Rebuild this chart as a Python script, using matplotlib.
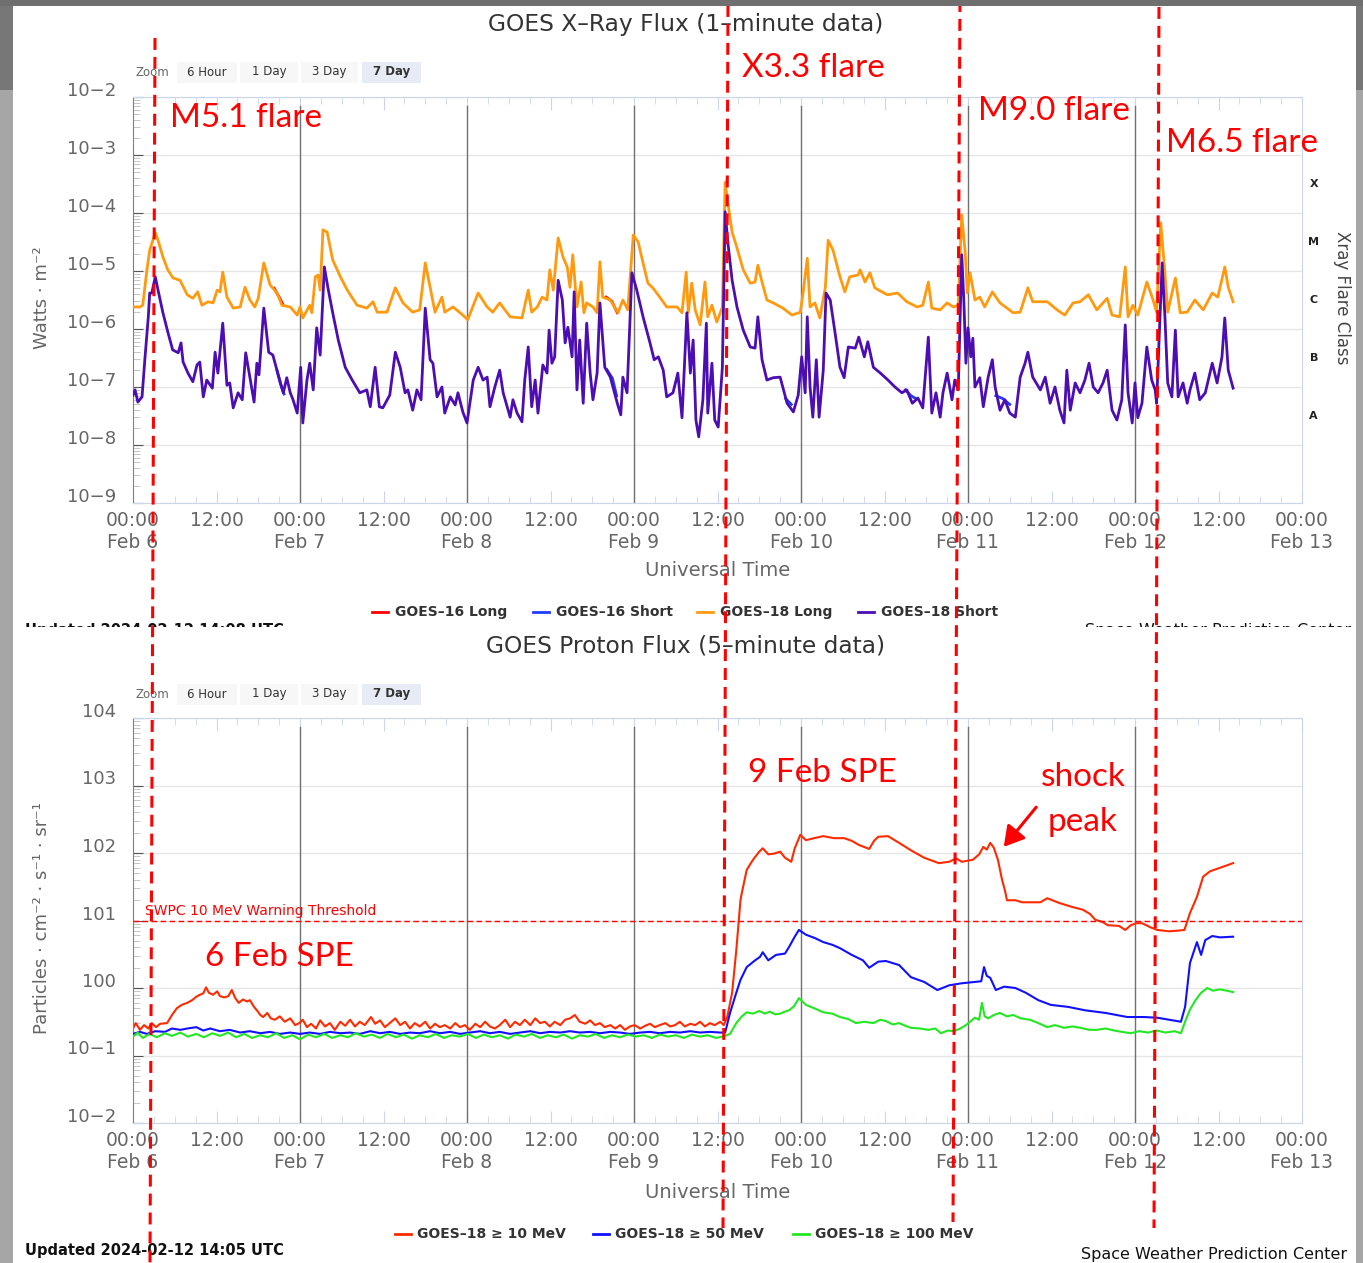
import numpy as np
import matplotlib
matplotlib.use("Agg")
import matplotlib.pyplot as plt
from matplotlib.lines import Line2D
from matplotlib.patches import Rectangle, FancyArrowPatch
from matplotlib.ticker import LogLocator, NullFormatter
from matplotlib.transforms import ScaledTranslation

W, H = 1363, 1263


def fx(px):
    return px / W


def fy(py):
    return 1 - py / H


# ---- X-ray flux: (hours since 2024-02-06 00:00 UTC, log10 W m^-2) ----
g18_long = [
    (0.0, -5.62), (1.0, -5.62), (1.4, -5.59), (2.0, -4.98), (2.4, -4.64), (3.2, -4.34),
    (3.6, -4.47), (4.3, -4.76), (5.0, -4.98), (5.75, -5.12), (6.75, -5.16), (7.8, -5.41),
    (8.6, -5.47), (9.3, -5.36), (9.9, -5.59), (10.8, -5.53), (11.5, -5.55), (12.1, -5.33),
    (12.5, -5.36), (12.9, -5.02), (13.5, -5.45), (14.4, -5.64), (15.4, -5.62), (16.1, -5.28),
    (16.8, -5.50), (17.5, -5.62), (18.0, -5.47), (18.8, -4.86), (19.7, -5.24), (20.7, -5.38),
    (21.4, -5.59), (22.6, -5.62), (23.6, -5.76), (24.0, -5.62), (24.4, -5.81), (25.4, -5.59),
    (25.7, -5.72), (26.2, -5.10), (26.6, -5.07), (26.9, -5.33), (27.3, -4.29), (27.9, -4.33),
    (28.7, -4.81), (29.8, -5.10), (30.8, -5.33), (32.2, -5.59), (33.6, -5.64), (34.5, -5.53),
    (35.1, -5.71), (36.5, -5.71), (37.7, -5.29), (38.8, -5.55), (40.2, -5.71), (41.2, -5.67),
    (42.0, -4.86), (42.7, -5.28), (43.4, -5.71), (44.4, -5.45), (44.8, -5.71), (46.0, -5.62),
    (47.4, -5.76), (48.1, -5.84), (49.6, -5.38), (50.9, -5.62), (51.7, -5.71), (52.7, -5.55),
    (54.2, -5.79), (55.9, -5.81), (56.8, -5.33), (57.3, -5.71), (58.1, -5.62), (58.8, -5.45),
    (59.5, -5.50), (59.9, -4.98), (60.4, -5.33), (61.1, -4.43), (61.8, -4.76), (62.4, -4.93),
    (62.8, -5.28), (63.2, -4.72), (63.8, -5.62), (64.4, -5.19), (64.8, -5.72), (65.2, -5.55),
    (66.1, -5.62), (66.7, -5.72), (67.1, -4.84), (67.5, -5.45), (68.6, -5.50), (69.7, -5.72),
    (70.4, -5.50), (71.1, -5.67), (71.9, -4.38), (72.6, -4.50), (73.3, -4.86), (74.0, -5.21),
    (74.7, -5.29), (75.7, -5.45), (76.7, -5.62), (78.2, -5.62), (78.9, -5.72), (79.5, -5.02),
    (79.8, -5.72), (80.3, -5.21), (80.8, -5.67), (81.5, -5.93), (82.2, -5.19), (82.6, -5.79),
    (83.2, -5.59), (83.9, -5.88), (84.7, -5.62), (85.1, -3.47), (85.5, -3.83), (86.1, -4.33),
    (86.8, -4.60), (87.7, -4.98), (88.7, -5.21), (89.4, -5.19), (89.8, -4.90), (90.4, -5.19),
    (91.1, -5.50), (92.0, -5.55), (93.4, -5.64), (94.7, -5.76), (95.9, -5.71), (96.3, -5.38),
    (96.9, -4.78), (97.3, -5.62), (98.0, -5.55), (98.7, -5.81), (99.5, -5.28), (99.9, -4.47),
    (100.6, -4.64), (101.6, -5.10), (102.3, -5.36), (103.0, -5.10), (104.2, -5.07), (104.5, -4.98),
    (105.2, -5.19), (105.9, -5.03), (106.6, -5.29), (108.4, -5.41), (109.9, -5.38), (111.2, -5.53),
    (112.7, -5.62), (113.5, -5.59), (114.3, -5.19), (114.8, -5.64), (116.0, -5.67), (117.0, -5.55),
    (117.9, -5.62), (118.6, -5.59), (119.1, -4.03), (119.6, -4.69), (119.9, -5.38), (120.3, -5.03),
    (121.0, -5.50), (121.7, -5.45), (122.4, -5.62), (123.5, -5.36), (124.6, -5.55), (126.5, -5.72),
    (127.5, -5.71), (128.6, -5.29), (129.3, -5.53), (131.4, -5.53), (132.8, -5.67), (133.9, -5.76),
    (135.1, -5.55), (136.1, -5.53), (137.3, -5.41), (138.5, -5.67), (140.0, -5.47), (140.7, -5.76),
    (141.8, -5.79), (142.6, -4.93), (143.0, -5.79), (143.7, -5.59), (144.4, -5.76), (145.7, -5.19),
    (146.6, -5.50), (147.1, -5.71), (147.7, -4.17), (148.3, -5.03), (148.7, -5.71), (149.8, -5.12),
    (150.5, -5.72), (151.5, -5.71), (152.6, -5.50), (153.8, -5.67), (155.1, -5.38), (155.9, -5.45),
    (156.9, -4.93), (157.4, -5.28), (158.1, -5.53),
]

g18_short = [
    (0.0, -7.14), (0.3, -7.05), (0.7, -7.26), (1.3, -7.17), (1.7, -6.53), (2.2, -5.79),
    (2.4, -5.38), (2.7, -5.38), (3.2, -5.10), (3.6, -5.33), (4.3, -5.72), (5.0, -6.05),
    (5.7, -6.36), (6.5, -6.41), (6.9, -6.24), (7.2, -6.57), (7.9, -6.76), (8.6, -6.91),
    (9.2, -6.62), (9.6, -6.57), (10.1, -7.17), (10.6, -6.88), (11.4, -7.02), (11.8, -6.40),
    (12.2, -6.76), (12.9, -5.90), (13.5, -6.97), (13.9, -6.93), (14.4, -7.36), (15.1, -7.10),
    (15.7, -7.22), (16.2, -6.41), (16.8, -6.83), (17.4, -7.26), (17.8, -6.59), (18.1, -6.79),
    (18.8, -5.64), (19.5, -6.40), (20.1, -6.45), (20.8, -6.76), (21.6, -7.10), (22.1, -6.84),
    (22.6, -7.10), (23.0, -7.22), (23.6, -7.45), (24.1, -6.66), (24.4, -7.62), (25.0, -6.88),
    (25.4, -6.59), (25.9, -7.05), (26.4, -5.98), (26.9, -6.45), (27.5, -4.93), (28.0, -5.28),
    (28.7, -5.72), (29.5, -6.19), (30.5, -6.66), (31.5, -6.88), (32.6, -7.10), (33.6, -7.05),
    (34.1, -7.34), (34.8, -6.66), (35.4, -7.34), (35.9, -7.36), (36.9, -7.14), (37.7, -6.40),
    (38.4, -6.66), (39.1, -7.10), (39.5, -7.05), (40.2, -7.40), (40.8, -7.05), (41.4, -7.22),
    (42.0, -5.64), (42.7, -6.53), (43.1, -6.59), (43.7, -7.17), (44.4, -7.00), (44.8, -7.45),
    (45.6, -7.17), (46.3, -7.31), (46.7, -7.10), (47.4, -7.43), (48.0, -7.62), (48.9, -6.88),
    (49.6, -6.66), (50.3, -6.88), (50.9, -6.83), (51.3, -7.34), (52.0, -7.00), (52.7, -6.71),
    (53.2, -7.10), (54.2, -7.52), (54.6, -7.22), (55.2, -7.45), (55.9, -7.60), (56.3, -6.88),
    (56.8, -6.31), (57.3, -7.34), (57.8, -6.88), (58.2, -7.45), (58.9, -6.62), (59.5, -6.76),
    (59.8, -6.02), (60.2, -6.59), (60.6, -6.48), (61.1, -5.16), (61.7, -5.50), (62.1, -6.24),
    (62.5, -5.97), (63.1, -6.48), (63.4, -5.36), (63.8, -7.05), (64.2, -6.19), (64.7, -7.28),
    (65.2, -5.90), (65.7, -6.76), (66.1, -7.22), (66.7, -6.76), (67.1, -5.55), (67.8, -6.66),
    (68.6, -6.83), (69.6, -7.28), (70.1, -7.48), (70.4, -6.83), (71.0, -7.10), (71.7, -5.03),
    (72.4, -5.33), (73.3, -5.79), (74.3, -6.24), (74.9, -6.53), (75.5, -6.48), (76.2, -6.71),
    (76.7, -7.17), (77.6, -7.10), (78.3, -6.76), (78.9, -7.53), (79.6, -5.72), (80.1, -6.76),
    (80.5, -6.19), (80.9, -7.57), (81.3, -7.86), (81.9, -7.22), (82.4, -5.90), (82.6, -7.45),
    (83.2, -6.59), (83.6, -7.57), (84.1, -7.69), (84.7, -6.66), (85.1, -3.98), (85.5, -4.52),
    (86.1, -5.16), (86.8, -5.62), (87.7, -6.02), (88.7, -6.31), (89.4, -6.33), (89.8, -5.79),
    (90.4, -6.53), (91.1, -6.88), (92.0, -6.84), (93.0, -6.83), (94.0, -7.28), (94.9, -7.43),
    (95.6, -7.14), (96.1, -6.48), (96.6, -7.10), (96.9, -5.79), (97.3, -7.00), (97.7, -7.52),
    (98.2, -6.53), (98.6, -7.52), (99.2, -6.71), (99.6, -5.38), (100.2, -5.50), (100.9, -6.07),
    (101.6, -6.66), (102.2, -6.84), (102.8, -6.31), (103.8, -6.33), (104.3, -6.14), (105.1, -6.48),
    (105.6, -6.22), (106.4, -6.66), (107.4, -6.76), (108.5, -6.88), (109.5, -7.00), (110.5, -7.10),
    (111.2, -7.05), (112.0, -7.28), (112.8, -7.19), (113.5, -7.36), (114.3, -6.14), (114.8, -7.45),
    (115.4, -7.10), (116.0, -7.52), (116.4, -7.10), (117.0, -6.76), (117.7, -7.22), (118.1, -6.88),
    (118.6, -7.05), (119.1, -4.72), (119.4, -5.50), (119.7, -6.59), (120.0, -5.98), (120.4, -6.48),
    (120.7, -6.16), (121.0, -7.00), (121.7, -6.84), (122.2, -7.34), (122.9, -6.83), (123.5, -6.53),
    (123.9, -7.00), (124.6, -7.40), (125.3, -7.22), (126.0, -7.45), (126.8, -7.52), (127.5, -6.83),
    (128.2, -6.59), (128.6, -6.40), (129.3, -6.83), (130.4, -7.05), (131.1, -6.83), (131.8, -7.28),
    (132.5, -7.00), (133.2, -7.40), (133.8, -7.62), (134.2, -6.71), (134.7, -7.40), (135.4, -6.93),
    (136.1, -7.10), (136.8, -6.88), (137.4, -6.59), (138.0, -7.00), (138.7, -7.10), (139.4, -6.93),
    (140.0, -6.71), (140.7, -7.40), (141.4, -7.57), (142.1, -7.22), (142.6, -5.93), (143.0, -7.10),
    (143.6, -7.62), (144.0, -6.93), (144.4, -7.53), (145.0, -7.28), (145.7, -6.31), (146.4, -6.88),
    (146.9, -7.05), (147.1, -7.28), (147.9, -4.86), (148.3, -5.79), (148.7, -6.93), (149.3, -7.17),
    (149.8, -6.02), (150.2, -7.17), (150.9, -6.93), (151.5, -7.28), (151.9, -7.05), (152.6, -6.76),
    (153.3, -7.22), (154.1, -7.10), (155.1, -6.59), (155.8, -6.93), (156.5, -6.48), (156.9, -5.81),
    (157.4, -6.71), (158.1, -7.02),
]

# GOES-16 mostly lies under GOES-18; only the stretches where it shows
g16_long = [
    [(20.3, -5.30), (21.0, -5.45), (21.6, -5.59)],
    [(68.0, -5.45), (68.8, -5.52), (69.6, -5.72)],
]
g16_short = [
    [(20.7, -6.72), (21.2, -6.95), (21.7, -7.12)],
    [(68.1, -6.70), (68.9, -6.85), (69.5, -7.15)],
    [(93.8, -7.20), (94.6, -7.30)],
    [(111.0, -7.05), (111.8, -7.15), (112.5, -7.20)],
    [(124.0, -7.15), (125.0, -7.20), (126.0, -7.30)],
]

# ---- Proton flux: (hours since 2024-02-06 00:00 UTC, log10 pfu) ----
p10 = [
    (0.0, -0.60), (0.4, -0.52), (1.0, -0.62), (1.6, -0.55), (2.2, -0.60), (2.7, -0.52),
    (3.3, -0.58), (3.9, -0.53), (4.9, -0.52), (5.6, -0.40), (6.3, -0.30), (7.0, -0.25),
    (7.8, -0.22), (8.5, -0.18), (9.1, -0.13), (9.6, -0.10), (10.1, -0.08), (10.5, 0.01),
    (10.9, -0.07), (11.5, -0.10), (12.1, -0.05), (12.5, -0.12), (13.1, -0.14), (13.7, -0.12),
    (14.2, -0.03), (14.7, -0.15), (15.2, -0.22), (15.8, -0.17), (16.4, -0.20), (16.8, -0.18),
    (17.4, -0.28), (17.8, -0.33), (18.3, -0.40), (18.7, -0.43), (19.3, -0.37), (19.8, -0.45),
    (20.4, -0.47), (21.1, -0.42), (21.8, -0.50), (22.6, -0.45), (23.3, -0.55), (23.9, -0.52),
    (24.4, -0.47), (25.0, -0.58), (25.6, -0.53), (26.3, -0.60), (26.9, -0.48), (27.6, -0.57),
    (28.3, -0.52), (29.0, -0.62), (29.8, -0.50), (30.5, -0.56), (31.2, -0.47), (31.9, -0.57),
    (32.6, -0.50), (33.3, -0.55), (34.2, -0.43), (34.8, -0.53), (35.5, -0.48), (36.2, -0.58),
    (36.9, -0.52), (37.7, -0.45), (38.4, -0.55), (39.1, -0.50), (39.8, -0.60), (40.5, -0.52),
    (41.2, -0.57), (42.0, -0.50), (42.7, -0.60), (43.4, -0.53), (44.1, -0.58), (44.8, -0.55),
    (45.6, -0.60), (46.3, -0.52), (47.0, -0.58), (47.7, -0.55), (48.4, -0.62), (49.2, -0.53),
    (49.9, -0.58), (50.6, -0.50), (51.3, -0.57), (52.0, -0.60), (52.7, -0.55), (53.5, -0.47),
    (54.2, -0.58), (54.9, -0.50), (55.6, -0.55), (56.3, -0.47), (57.1, -0.55), (57.8, -0.45),
    (58.5, -0.52), (59.2, -0.50), (59.9, -0.57), (60.6, -0.50), (61.4, -0.55), (62.1, -0.47),
    (62.8, -0.45), (63.5, -0.40), (64.2, -0.50), (65.0, -0.53), (65.7, -0.48), (66.4, -0.55),
    (67.1, -0.52), (67.8, -0.58), (68.6, -0.55), (69.3, -0.60), (70.0, -0.55), (70.7, -0.62),
    (71.4, -0.57), (72.1, -0.55), (72.9, -0.60), (73.6, -0.56), (74.3, -0.53), (75.0, -0.58),
    (75.7, -0.55), (76.5, -0.52), (77.2, -0.57), (77.9, -0.55), (78.6, -0.50), (79.3, -0.57),
    (80.1, -0.53), (80.8, -0.55), (81.5, -0.50), (82.2, -0.57), (82.9, -0.52), (83.6, -0.55),
    (84.4, -0.50), (84.9, -0.55), (85.4, -0.43), (86.1, -0.07), (86.7, 0.56), (87.3, 1.30),
    (87.5, 1.41), (88.2, 1.75), (89.1, 1.90), (90.0, 2.02), (90.5, 2.07), (91.3, 1.98),
    (92.1, 1.99), (93.0, 2.02), (93.7, 1.93), (94.6, 1.87), (95.1, 2.07), (95.9, 2.27),
    (96.7, 2.19), (97.9, 2.22), (99.2, 2.25), (100.7, 2.22), (102.2, 2.22), (103.3, 2.18),
    (104.3, 2.12), (105.8, 2.06), (106.5, 2.18), (107.1, 2.24), (108.5, 2.25), (110.1, 2.15),
    (111.8, 2.04), (113.7, 1.93), (115.8, 1.85), (117.3, 1.87), (118.3, 1.92), (119.1, 1.87),
    (120.7, 1.90), (121.6, 1.98), (122.2, 2.09), (122.7, 2.05), (123.2, 2.15), (123.7, 2.08),
    (124.3, 1.90), (124.9, 1.60), (125.3, 1.45), (125.6, 1.30), (126.8, 1.30), (127.8, 1.27),
    (128.9, 1.27), (130.4, 1.27), (131.4, 1.33), (133.1, 1.26), (135.0, 1.20), (136.5, 1.16),
    (137.5, 1.10), (138.3, 1.01), (139.3, 0.98), (140.1, 0.93), (141.7, 0.92), (142.6, 0.86),
    (143.4, 0.93), (144.2, 0.96), (145.0, 0.96), (146.2, 0.90), (147.2, 0.86), (148.9, 0.84),
    (150.2, 0.85), (151.1, 0.86), (151.9, 1.11), (152.9, 1.35), (153.8, 1.65), (154.8, 1.73),
    (156.2, 1.78), (158.1, 1.85),
]

p50 = [
    (0.0, -0.68), (1.0, -0.65), (2.0, -0.68), (3.2, -0.64), (4.6, -0.65), (5.6, -0.60),
    (6.8, -0.62), (7.8, -0.60), (9.1, -0.58), (10.1, -0.63), (11.1, -0.60), (12.5, -0.64),
    (13.9, -0.62), (15.4, -0.66), (16.8, -0.64), (18.3, -0.67), (19.7, -0.65), (21.1, -0.68),
    (22.6, -0.66), (24.0, -0.68), (25.4, -0.66), (26.9, -0.68), (28.3, -0.65), (29.8, -0.67),
    (31.2, -0.66), (32.6, -0.68), (34.1, -0.64), (35.5, -0.67), (36.9, -0.65), (38.4, -0.68),
    (39.8, -0.66), (41.2, -0.67), (42.7, -0.64), (44.1, -0.67), (45.6, -0.65), (47.0, -0.68),
    (48.4, -0.66), (49.9, -0.64), (51.3, -0.67), (52.7, -0.65), (54.2, -0.68), (55.6, -0.66),
    (57.1, -0.64), (58.5, -0.67), (59.9, -0.65), (61.4, -0.66), (62.8, -0.64), (64.2, -0.66),
    (65.7, -0.65), (67.1, -0.67), (68.6, -0.65), (70.0, -0.66), (71.4, -0.68), (72.9, -0.66),
    (74.3, -0.65), (75.7, -0.67), (77.2, -0.65), (78.6, -0.66), (80.1, -0.64), (81.5, -0.66),
    (82.9, -0.65), (84.4, -0.66), (85.1, -0.66), (85.8, -0.37), (86.7, -0.07), (87.3, 0.12),
    (88.2, 0.31), (89.4, 0.41), (90.1, 0.46), (90.5, 0.53), (91.3, 0.41), (92.4, 0.49),
    (93.7, 0.51), (94.3, 0.61), (95.1, 0.76), (95.7, 0.86), (96.7, 0.79), (98.0, 0.74),
    (99.2, 0.68), (100.5, 0.64), (101.6, 0.59), (103.3, 0.49), (104.9, 0.41), (105.8, 0.30),
    (107.1, 0.39), (108.2, 0.40), (110.1, 0.34), (111.8, 0.16), (113.7, 0.09), (115.6, -0.03),
    (117.3, 0.04), (119.1, 0.07), (121.0, 0.09), (121.9, 0.10), (122.3, 0.31), (122.7, 0.18),
    (123.2, 0.15), (124.0, -0.03), (125.2, 0.02), (126.8, 0.00), (128.3, -0.07), (130.1, -0.18),
    (131.9, -0.25), (134.4, -0.28), (136.8, -0.33), (139.8, -0.37), (142.9, -0.43), (145.3, -0.43),
    (147.2, -0.44), (148.9, -0.47), (150.6, -0.50), (151.2, -0.28), (151.9, 0.37), (152.9, 0.68),
    (153.5, 0.49), (154.1, 0.71), (155.1, 0.77), (156.2, 0.75), (158.1, 0.76),
]

p100 = [
    (0.0, -0.72), (0.7, -0.66), (1.4, -0.74), (2.4, -0.68), (3.4, -0.73), (4.6, -0.67),
    (5.6, -0.71), (6.8, -0.66), (7.9, -0.72), (9.1, -0.68), (10.2, -0.73), (11.4, -0.67),
    (12.5, -0.71), (13.7, -0.66), (14.8, -0.73), (16.0, -0.68), (17.1, -0.74), (18.3, -0.70),
    (19.4, -0.73), (20.6, -0.67), (21.7, -0.74), (22.9, -0.70), (24.0, -0.76), (25.2, -0.69),
    (26.3, -0.73), (27.5, -0.68), (28.6, -0.74), (29.8, -0.70), (30.9, -0.73), (32.0, -0.67),
    (33.2, -0.72), (34.3, -0.69), (35.5, -0.74), (36.6, -0.68), (37.8, -0.73), (38.9, -0.69),
    (40.1, -0.75), (41.2, -0.70), (42.4, -0.73), (43.5, -0.68), (44.7, -0.74), (45.8, -0.70),
    (47.0, -0.72), (48.1, -0.68), (49.3, -0.74), (50.4, -0.69), (51.6, -0.73), (52.7, -0.70),
    (53.9, -0.75), (55.0, -0.69), (56.2, -0.72), (57.3, -0.68), (58.5, -0.74), (59.6, -0.70),
    (60.8, -0.73), (61.9, -0.69), (63.1, -0.75), (64.2, -0.70), (65.4, -0.72), (66.5, -0.68),
    (67.7, -0.74), (68.8, -0.70), (70.0, -0.73), (71.1, -0.69), (72.3, -0.72), (73.4, -0.70),
    (74.6, -0.74), (75.7, -0.69), (76.9, -0.72), (78.0, -0.70), (79.2, -0.74), (80.3, -0.69),
    (81.5, -0.72), (82.6, -0.70), (83.8, -0.74), (85.1, -0.71), (85.8, -0.68), (86.7, -0.52),
    (87.5, -0.42), (88.2, -0.36), (89.1, -0.38), (90.0, -0.34), (90.8, -0.38), (91.5, -0.35),
    (92.3, -0.39), (93.0, -0.38), (93.7, -0.35), (94.3, -0.33), (95.0, -0.27), (95.7, -0.15),
    (96.7, -0.25), (97.9, -0.30), (99.2, -0.36), (100.5, -0.38), (101.6, -0.43), (102.8, -0.46),
    (103.9, -0.52), (105.1, -0.50), (106.4, -0.52), (107.4, -0.47), (108.2, -0.49), (109.2, -0.54),
    (110.1, -0.52), (111.0, -0.56), (111.8, -0.59), (113.1, -0.60), (114.3, -0.62), (115.3, -0.60),
    (116.1, -0.67), (117.1, -0.63), (118.0, -0.64), (118.9, -0.60), (119.7, -0.55), (121.0, -0.44),
    (121.6, -0.47), (122.0, -0.22), (122.4, -0.42), (122.9, -0.45), (123.7, -0.40), (124.6, -0.37),
    (125.6, -0.42), (126.5, -0.40), (127.6, -0.45), (128.9, -0.47), (130.1, -0.52), (131.4, -0.58),
    (132.5, -0.55), (133.8, -0.59), (135.0, -0.57), (136.2, -0.59), (137.4, -0.62), (138.5, -0.62),
    (139.8, -0.60), (141.0, -0.63), (142.1, -0.65), (143.4, -0.67), (144.6, -0.64), (145.9, -0.66),
    (147.1, -0.63), (148.4, -0.66), (149.7, -0.64), (150.6, -0.67), (151.3, -0.47), (151.9, -0.32),
    (152.7, -0.18), (153.5, -0.07), (154.4, 0.00), (155.2, -0.04), (156.2, -0.02), (157.2, -0.04),
    (158.1, -0.06),
]

days = ["Feb 6", "Feb 7", "Feb 8", "Feb 9", "Feb 10", "Feb 11", "Feb 12", "Feb 13"]
xray_exp = list(range(-9, -1))
proton_exp = list(range(-2, 5))
flare_classes = ["A", "B", "C", "M", "X"]
xray_legend = ["GOES\u201316 Long", "GOES\u201316 Short", "GOES\u201318 Long", "GOES\u201318 Short"]
proton_legend = ["GOES\u201318 \u2265 10 MeV", "GOES\u201318 \u2265 50 MeV", "GOES\u201318 \u2265 100 MeV"]
zoom_buttons = ["6 Hour", "1 Day", "3 Day", "7 Day"]

c_g16l, c_g16s, c_g18l, c_g18s = "#ff0000", "#1f3cff", "#ff9a10", "#4c0db2"
c_p10, c_p50, c_p100 = "#ff2a00", "#1010ff", "#22e822"


def xy(series):
    a = np.array(series)
    return a[:, 0], 10.0 ** a[:, 1]


def exp_label(e):
    return "10" + (("\u2212" + str(-e)) if e < 0 else str(e))


fig = plt.figure(figsize=(W / 100, H / 100), dpi=100)
fig.patch.set_facecolor("white")

ax1 = fig.add_axes([fx(133), fy(503), fx(1302) - fx(133), (503 - 97) / H])
ax2 = fig.add_axes([fx(133), fy(1123), fx(1302) - fx(133), (1123 - 718) / H])

xlabels = []
for i in range(15):
    xlabels.append("00:00\n" + days[i // 2] if i % 2 == 0 else "12:00")


def setup(ax, exps):
    ax.set_xlim(0, 168)
    ax.set_yscale("log")
    ax.set_ylim(10.0 ** exps[0], 10.0 ** exps[-1])
    ax.set_yticks([10.0 ** e for e in exps])
    ax.set_yticklabels([exp_label(e) for e in exps])
    ax.yaxis.set_minor_locator(LogLocator(base=10, subs=np.arange(2, 10), numticks=20))
    ax.yaxis.set_minor_formatter(NullFormatter())
    ax.set_xticks(np.arange(0, 169, 12))
    ax.set_xticklabels(xlabels)
    ax.set_xticks(np.arange(0, 169, 3), minor=True)
    ax.grid(axis="y", which="major", color="#e6e6e6", lw=1)
    ax.set_axisbelow(True)
    for s in ["top", "right", "bottom"]:
        ax.spines[s].set_color("#ccd6eb")
    ax.spines["left"].set_color("#808080")
    ax.tick_params(axis="x", which="both", direction="in", top=True, bottom=True,
                   color="#ccd6eb", labelcolor="#666666", labelsize=13.5, pad=6)
    ax.tick_params(axis="x", which="major", length=9)
    ax.tick_params(axis="x", which="minor", length=5)
    ax.tick_params(axis="y", which="major", direction="in", length=7, color="#555555",
                   labelcolor="#666666", labelsize=13, pad=12)
    ax.tick_params(axis="y", which="minor", direction="in", length=5, color="#bbbbbb")
    for lab in ax.get_yticklabels():
        lab.set_transform(lab.get_transform() + ScaledTranslation(0, 0.08, fig.dpi_scale_trans))
    for d in range(24, 168, 24):
        ax.axvline(d, ymin=0, ymax=0.977, color="#707070", lw=1, zorder=1)


setup(ax1, xray_exp)
setup(ax2, proton_exp)

# X-ray series
for seg in g16_long:
    ax1.plot(*xy(seg), color=c_g16l, lw=2.0, zorder=2)
for seg in g16_short:
    ax1.plot(*xy(seg), color=c_g16s, lw=2.0, zorder=2)
ax1.plot(*xy(g18_long), color=c_g18l, lw=2.0, zorder=3)
ax1.plot(*xy(g18_short), color=c_g18s, lw=2.0, zorder=4)

for i, c in enumerate(flare_classes):
    ax1.text(1.01, 10.0 ** (-7.5 + i), c, transform=ax1.get_yaxis_transform(),
             ha="center", va="center", fontsize=8, fontweight="bold", color="#222222")

# proton series
ax2.plot(*xy(p10), color=c_p10, lw=1.5, zorder=2)
ax2.plot(*xy(p50), color=c_p50, lw=1.5, zorder=3)
ax2.plot(*xy(p100), color=c_p100, lw=1.5, zorder=4)
ax2.axhline(10, color="#ff0000", lw=1.0, ls=(0, (4, 2.5)), zorder=5)
ax2.text(1.7, 10.0 ** 1.03, "SWPC 10 MeV Warning Threshold", color="#ff0000",
         fontsize=10, ha="left", va="bottom", zorder=5)

# titles and axis texts
fig.text(fx(686), fy(24), "GOES X\u2013Ray Flux (1\u2013minute data)", ha="center", va="center",
         fontsize=16.8, color="#333333")
fig.text(fx(686), fy(646), "GOES Proton Flux (5\u2013minute data)", ha="center", va="center",
         fontsize=16.8, color="#333333")
for yy in (571, 1193):
    fig.text(fx(718), fy(yy), "Universal Time", ha="center", va="center", fontsize=14,
             color="#666666")
fig.text(fx(42), fy(298), "Watts \u00b7 m\u207b\u00b2", rotation=90, ha="center", va="center",
         fontsize=13, color="#666666")
fig.text(fx(42), fy(918), "Particles \u00b7 cm\u207b\u00b2 \u00b7 s\u207b\u00b9 \u00b7 sr\u207b\u00b9",
         rotation=90, ha="center", va="center", fontsize=13, color="#666666")
fig.text(fx(1342), fy(298), "Xray Flare Class", rotation=-90, ha="center", va="center",
         fontsize=12, color="#444444")

# zoom buttons
btn_x = [(177, 237), (240, 298), (301, 358), (362, 421)]
for ytop in (62, 684):
    fig.text(fx(135), fy(ytop + 10), "Zoom", ha="left", va="center", fontsize=8.5, color="#666666")
    for i, (label, (x0, x1)) in enumerate(zip(zoom_buttons, btn_x)):
        face = "#e6ebf5" if i == 3 else "#f7f7f7"
        fig.add_artist(Rectangle((fx(x0), fy(ytop + 21)), fx(x1) - fx(x0), 21 / H,
                                 transform=fig.transFigure, facecolor=face, edgecolor="none"))
        fig.text(fx((x0 + x1) / 2), fy(ytop + 10), label, ha="center", va="center", fontsize=8.5,
                 color="#333333", fontweight="bold" if i == 3 else "normal")

# legends
leg1 = [(372, c_g16l), (533, c_g16s), (697, c_g18l), (858, c_g18s)]
for (x0, col), label in zip(leg1, xray_legend):
    fig.add_artist(Line2D([fx(x0), fx(x0 + 16)], [fy(612)] * 2, color=col, lw=2,
                          transform=fig.transFigure))
    fig.text(fx(x0 + 23), fy(612), label, ha="left", va="center", fontsize=10,
             fontweight="bold", color="#333333")
leg2 = [(395, c_p10), (593, c_p50), (793, c_p100)]
for (x0, col), label in zip(leg2, proton_legend):
    fig.add_artist(Line2D([fx(x0), fx(x0 + 16)], [fy(1234)] * 2, color=col, lw=2,
                          transform=fig.transFigure))
    fig.text(fx(x0 + 22), fy(1234), label, ha="left", va="center", fontsize=10,
             fontweight="bold", color="#333333")

# footers (upper one is cut off by the lower chart)
fig.text(fx(25), fy(630), "Updated 2024-02-12 14:08 UTC", ha="left", va="center", fontsize=10.5,
         fontweight="bold", color="#111111", zorder=1)
fig.text(fx(1085), fy(630), "Space Weather Prediction Center", ha="left", va="center",
         fontsize=11.5, color="#111111", zorder=1)
fig.add_artist(Rectangle((fx(13), fy(643)), fx(1343), 16 / H, transform=fig.transFigure,
                         facecolor="white", edgecolor="none", zorder=2))
fig.text(fx(25), fy(1250), "Updated 2024-02-12 14:05 UTC", ha="left", va="center", fontsize=10.5,
         fontweight="bold", color="#111111")
fig.text(fx(1347), fy(1254), "Space Weather Prediction Center", ha="right", va="center",
         fontsize=11.5, color="#111111")

# annotations drawn over the screenshot
for (x0, y0, x1, y1) in [(155, 38, 150, 1263), (728, 5, 723, 1228),
                         (960, 0, 953, 1222), (1159, 7, 1154, 1228)]:
    fig.add_artist(Line2D([fx(x0), fx(x1)], [fy(y0), fy(y1)], color="#ff0000", lw=2.2,
                          dashes=(3.9, 2.3), transform=fig.transFigure, zorder=10))

ann = dict(color="#ff0000", family="Lato", fontsize=24, ha="left", va="center", zorder=11)
for label, x, y in [("M5.1 flare", 170, 118), ("X3.3 flare", 742, 68), ("M9.0 flare", 978, 111),
                    ("M6.5 flare", 1166, 143), ("9 Feb SPE", 748, 773), ("shock", 1041, 777),
                    ("peak", 1048, 822), ("6 Feb SPE", 205, 957)]:
    fig.text(fx(x), fy(y), label, **ann)
fig.add_artist(FancyArrowPatch((fx(1038), fy(805)), (fx(1002), fy(849)), transform=fig.transFigure,
                               arrowstyle="-|>,head_length=0.6,head_width=0.35", mutation_scale=20,
                               color="#ff0000", lw=2.2, zorder=11))

# screenshot frame
for (x0, y0, x1, y1, col) in [(0, 0, 1363, 6, "#6f6f6f"), (0, 6, 13, 90, "#777777"),
                              (0, 90, 13, 1263, "#a6a6a6"), (1356, 6, 1363, 90, "#777777"),
                              (1356, 90, 1363, 1263, "#a6a6a6")]:
    fig.add_artist(Rectangle((fx(x0), fy(y1)), fx(x1) - fx(x0), (y1 - y0) / H,
                             transform=fig.transFigure, facecolor=col, edgecolor="none", zorder=12))

fig.savefig("out.png", dpi=100, facecolor="white")
